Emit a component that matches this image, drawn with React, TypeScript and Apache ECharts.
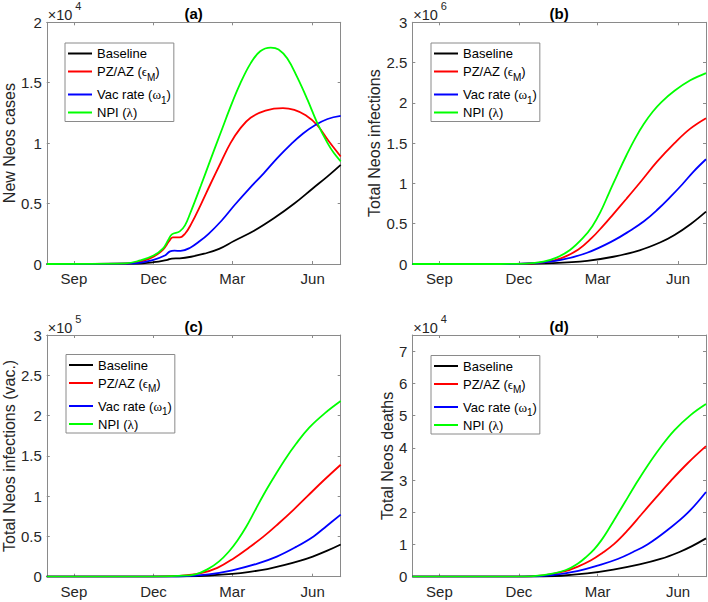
import React, { useEffect, useRef } from 'react';
import * as echarts from 'echarts';

// ---------- data ----------
// x values are days counted from 1 August
const xTickDays = [31, 122, 212, 304];
const xTickLabels = ['Sep', 'Dec', 'Mar', 'Jun'];
const xMin = 0;
const xMax = 336;

const seriesNames = ['Baseline', 'PZ/AZ', 'Vac rate', 'NPI'];
const legendLabels = [
  '{t|Baseline}',
  '{t|PZ/AZ (}{g|ϵ}{s|M}{t|)}',
  '{t|Vac rate (}{g|ω}{s|1}{t|)}',
  '{t|NPI (}{g|λ}{t|)}',
];
const seriesColors = ['#000000', '#ff0000', '#0000ff', '#00ff00'];

const panelTitles = ['(a)', '(b)', '(c)', '(d)'];
const yAxisNames = ['New Neos cases', 'Total Neos infections', 'Total Neos infections (vac.)', 'Total Neos deaths'];
const yExponents = ['4', '6', '5', '4'];
const yTicksA = [0, 0.5, 1, 1.5, 2];
const yTicksB = [0, 0.5, 1, 1.5, 2, 2.5, 3];
const yTicksC = [0, 0.5, 1, 1.5, 2, 2.5, 3];
const yTicksD = [0, 1, 2, 3, 4, 5, 6, 7];
const yMaxes = [2, 3, 3, 7.5];

// (a) New Neos cases (x10^4)
const aBaseline = [[0, 0], [100, 0.003], [122, 0.015], [138, 0.035], [143, 0.045], [152, 0.047], [165, 0.06], [180, 0.085], [197, 0.125], [214, 0.19], [237, 0.275], [260, 0.38], [283, 0.5], [304, 0.625], [321, 0.725], [336, 0.82]];
const aPZAZ = [[0, 0], [95, 0.005], [110, 0.025], [122, 0.06], [133, 0.12], [140, 0.19], [144, 0.22], [152, 0.22], [158, 0.25], [165, 0.33], [176, 0.49], [187, 0.66], [199, 0.84], [210, 1.0], [221, 1.12], [233, 1.21], [250, 1.27], [270, 1.29], [283, 1.275], [296, 1.23], [309, 1.15], [322, 1.02], [336, 0.89]];
const aVacRate = [[0, 0], [100, 0.005], [122, 0.035], [135, 0.07], [141, 0.105], [146, 0.11], [153, 0.108], [164, 0.135], [175, 0.19], [185, 0.25], [200, 0.36], [215, 0.49], [231, 0.62], [248, 0.75], [264, 0.88], [279, 0.99], [293, 1.08], [307, 1.15], [321, 1.2], [336, 1.225]];
const aNPI = [[0, 0], [90, 0.005], [107, 0.03], [122, 0.07], [133, 0.13], [139, 0.2], [143, 0.245], [152, 0.27], [158, 0.32], [164, 0.42], [176, 0.645], [187, 0.86], [199, 1.09], [210, 1.3], [221, 1.49], [233, 1.66], [244, 1.76], [256, 1.79], [265, 1.775], [275, 1.7], [286, 1.55], [298, 1.36], [309, 1.17], [321, 1.0], [328, 0.92], [336, 0.85]];

// (b) Total Neos infections (x10^6)
const bBaseline = [[0, 0], [120, 0], [160, 0.01], [200, 0.04], [230, 0.09], [260, 0.17], [284, 0.27], [300, 0.36], [319, 0.5], [336, 0.65]];
const bPZAZ = [[0, 0], [100, 0], [130, 0.005], [150, 0.02], [170, 0.07], [190, 0.18], [205, 0.32], [218, 0.47], [230, 0.62], [245, 0.81], [262, 1.03], [280, 1.27], [300, 1.5], [318, 1.68], [336, 1.81]];
const bVacRate = [[0, 0], [110, 0], [140, 0.01], [170, 0.05], [200, 0.14], [230, 0.29], [250, 0.42], [265, 0.53], [280, 0.67], [295, 0.83], [309, 0.99], [322, 1.15], [336, 1.3]];
const bNPI = [[0, 0], [100, 0], [130, 0.005], [150, 0.03], [165, 0.08], [180, 0.17], [195, 0.32], [206, 0.47], [215, 0.64], [225, 0.88], [235, 1.12], [245, 1.35], [255, 1.56], [265, 1.74], [275, 1.89], [285, 2.01], [300, 2.15], [318, 2.28], [336, 2.37]];

// (c) Total Neos infections, vaccinated (x10^5)
const cBaseline = [[0, 0], [130, 0], [160, 0.005], [185, 0.015], [212, 0.035], [232, 0.06], [252, 0.095], [270, 0.14], [290, 0.2], [304, 0.25], [320, 0.32], [336, 0.4]];
const cPZAZ = [[0, 0], [120, 0], [150, 0.01], [175, 0.04], [195, 0.11], [214, 0.23], [231, 0.36], [248, 0.5], [265, 0.66], [282, 0.83], [298, 1.0], [317, 1.2], [336, 1.39]];
const cVacRate = [[0, 0], [125, 0], [155, 0.005], [185, 0.03], [212, 0.08], [240, 0.16], [263, 0.25], [285, 0.37], [305, 0.5], [320, 0.63], [336, 0.77]];
const cNPI = [[0, 0], [120, 0], [150, 0.01], [170, 0.03], [185, 0.1], [197, 0.19], [208, 0.31], [218, 0.45], [228, 0.62], [238, 0.82], [248, 1.02], [260, 1.24], [272, 1.45], [285, 1.65], [300, 1.85], [318, 2.03], [336, 2.18]];

// (d) Total Neos deaths (x10^4)
const dBaseline = [[0, 0], [130, 0], [170, 0.03], [200, 0.1], [230, 0.22], [260, 0.38], [284, 0.55], [305, 0.76], [320, 0.95], [336, 1.19]];
const dPZAZ = [[0, 0], [120, 0], [150, 0.04], [175, 0.17], [190, 0.32], [204, 0.5], [217, 0.73], [231, 1.02], [246, 1.43], [262, 1.93], [279, 2.46], [296, 2.98], [315, 3.52], [336, 4.05]];
const dVacRate = [[0, 0], [125, 0], [160, 0.05], [190, 0.18], [214, 0.36], [235, 0.55], [252, 0.76], [269, 1.0], [292, 1.45], [315, 1.98], [336, 2.63]];
const dNPI = [[0, 0], [120, 0], [150, 0.05], [175, 0.2], [190, 0.42], [200, 0.64], [208, 0.85], [216, 1.12], [224, 1.45], [233, 1.85], [243, 2.3], [254, 2.8], [268, 3.4], [283, 3.98], [300, 4.55], [319, 5.03], [336, 5.36]];

const panelData = [
  [aBaseline, aPZAZ, aVacRate, aNPI],
  [bBaseline, bPZAZ, bVacRate, bNPI],
  [cBaseline, cPZAZ, cVacRate, cNPI],
  [dBaseline, dPZAZ, dVacRate, dNPI],
];
const panelYTicks = [yTicksA, yTicksB, yTicksC, yTicksD];

// ---------- layout / style ----------
const FONT = '"Liberation Sans", Arial, Helvetica, sans-serif';
const SERIF = '"Liberation Serif", "DejaVu Serif", serif';
const AXIS_COLOR = '#8a8a8a';
const TEXT_COLOR = '#262626';

const boxes = [
  { left: 46.7, top: 22.3, width: 294, height: 241.7 },
  { left: 412.3, top: 22.3, width: 293.7, height: 241.7 },
  { left: 46.7, top: 335, width: 294, height: 241.7 },
  { left: 412.3, top: 335, width: 293.7, height: 241.7 },
];
const legendPos = [
  { left: 65, top: 43 },
  { left: 431, top: 43 },
  { left: 66, top: 354.5 },
  { left: 431, top: 355.5 },
];
const nameGaps = [28, 28, 28, 15];

function buildOption() {
  const grid: any[] = [];
  const xAxis: any[] = [];
  const yAxis: any[] = [];
  const series: any[] = [];
  const legend: any[] = [];
  const graphic: any[] = [];

  boxes.forEach((b, p) => {
    grid.push({ left: b.left, top: b.top, width: b.width, height: b.height, containLabel: false });
    const ticks = panelYTicks[p];
    const baseX = {
      type: 'value',
      gridIndex: p,
      min: xMin,
      max: xMax,
      splitLine: { show: false },
      axisLine: { show: true, onZero: false, lineStyle: { color: AXIS_COLOR, width: 1 } },
      axisTick: { show: true, inside: true, length: 3, customValues: xTickDays, lineStyle: { color: AXIS_COLOR } },
    };
    xAxis.push({
      ...baseX,
      position: 'bottom',
      axisLabel: {
        customValues: xTickDays,
        formatter: (v: number) => xTickLabels[xTickDays.indexOf(v)] ?? '',
        margin: 7,
        fontSize: 15,
        fontFamily: FONT,
        color: TEXT_COLOR,
      },
    });
    xAxis.push({ ...baseX, position: 'top', axisLabel: { show: false } });

    const baseY = {
      type: 'value',
      gridIndex: p,
      min: 0,
      max: yMaxes[p],
      splitLine: { show: false },
      axisLine: { show: true, onZero: false, lineStyle: { color: AXIS_COLOR, width: 1 } },
      axisTick: { show: true, inside: true, length: 3, customValues: ticks, lineStyle: { color: AXIS_COLOR } },
    };
    yAxis.push({
      ...baseY,
      position: 'left',
      name: yAxisNames[p],
      nameLocation: 'middle',
      nameGap: nameGaps[p],
      nameTextStyle: { fontSize: 16, fontFamily: FONT, color: TEXT_COLOR },
      axisLabel: { customValues: ticks, margin: 5, fontSize: 15, fontFamily: FONT, color: TEXT_COLOR },
    });
    yAxis.push({ ...baseY, position: 'right', axisLabel: { show: false } });

    panelData[p].forEach((d, s) => {
      series.push({
        type: 'line',
        name: seriesNames[s],
        xAxisIndex: 2 * p,
        yAxisIndex: 2 * p,
        data: d,
        symbol: 'none',
        smooth: 0.4,
        lineStyle: { color: seriesColors[s], width: 1.8 },
        itemStyle: { color: seriesColors[s] },
      });
    });

    legend.push({
      left: legendPos[p].left,
      top: legendPos[p].top,
      orient: 'vertical',
      align: 'left',
      data: seriesNames,
      selectedMode: false,
      icon: 'rect',
      itemWidth: 24,
      itemHeight: 2,
      itemGap: 0,
      padding: [4, 3, 2.5, 3],
      backgroundColor: '#ffffff',
      borderColor: AXIS_COLOR,
      borderWidth: 1,
      formatter: (name: string) => legendLabels[seriesNames.indexOf(name)],
      textStyle: {
        fontSize: 13,
        fontFamily: FONT,
        color: '#000',
        rich: {
          t: { fontSize: 13, fontFamily: FONT, color: '#000', lineHeight: 12 },
          g: { fontSize: 13, fontFamily: SERIF, color: '#000', lineHeight: 12 },
          s: { fontSize: 10, fontFamily: FONT, color: '#000', lineHeight: 12, padding: [12, 0, 1, 0] },
        },
      },
    });

    const cx = b.left + b.width / 2;
    graphic.push({
      type: 'text',
      x: cx,
      y: b.top - 9,
      style: { text: panelTitles[p], fontSize: 15, fontWeight: 'bold', fontFamily: FONT, fill: '#000', align: 'center', verticalAlign: 'middle' },
    });
    graphic.push({
      type: 'text',
      x: b.left + 1,
      y: b.top - 7.3,
      style: { text: '×10', fontSize: 14.5, fontFamily: FONT, fill: TEXT_COLOR, align: 'left', verticalAlign: 'middle' },
    });
    graphic.push({
      type: 'text',
      x: b.left + 28.5,
      y: b.top - 16,
      style: { text: yExponents[p], fontSize: 11, fontFamily: FONT, fill: TEXT_COLOR, align: 'left', verticalAlign: 'middle' },
    });
  });

  return {
    animation: false,
    backgroundColor: '#ffffff',
    grid,
    xAxis,
    yAxis,
    series,
    legend,
    graphic,
  };
}

export default function App() {
  const ref = useRef<HTMLDivElement>(null);
  useEffect(() => {
    if (!ref.current) return;
    const chart = echarts.init(ref.current, undefined, { renderer: 'svg' });
    chart.setOption(buildOption() as any);
    return () => chart.dispose();
  }, []);
  return <div ref={ref} style={{ position: 'fixed', left: 0, top: 0, width: 708, height: 602, background: '#fff' }} />;
}
